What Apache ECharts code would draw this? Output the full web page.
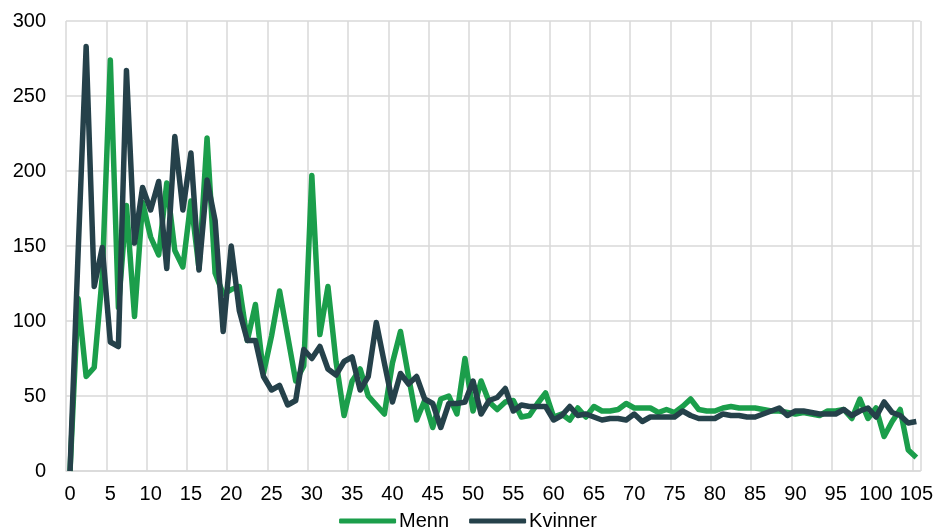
<!DOCTYPE html>
<html>
<head>
<meta charset="utf-8">
<script src="https://cdn.jsdelivr.net/npm/echarts@6/dist/echarts.min.js"></script>
<style>
html, body { margin: 0; padding: 0; background: #fff; }
#main { width: 936px; height: 528px; }
</style>
</head>
<body>
<div id="main"></div>
<script>
// alder 0..105
var ages = [];
for (var a = 0; a <= 105; a++) ages.push(String(a));

var menn = [0, 115, 63, 69, 130, 274, 109, 177, 103, 179,
	156, 144, 192, 147, 136, 180, 135, 222, 132, 118,
	121, 123, 87, 111, 65, 90, 120, 90, 60, 70,
	197, 91, 123, 73, 37, 60, 68, 50, 44, 38,
	72, 93, 63, 34, 47, 29, 48, 50, 38, 75,
	40, 60, 46, 41, 46, 47, 36, 37, 45, 52,
	36, 38, 34, 42, 36, 43, 40, 40, 41, 45,
	42, 42, 42, 39, 41, 39, 43, 48, 41, 40,
	40, 42, 43, 42, 42, 42, 41, 40, 40, 39,
	38, 39, 38, 37, 40, 40, 41, 35, 48, 35,
	42, 23, 33, 41, 14, 9];

var kvinner = [0, 145, 283, 123, 149, 86, 83, 267, 152, 189,
	174, 193, 135, 223, 174, 212, 134, 194, 167, 93,
	150, 107, 87, 87, 63, 54, 57, 44, 47, 81,
	75, 83, 68, 64, 73, 76, 54, 63, 99, 72,
	46, 65, 58, 63, 48, 45, 29, 45, 45, 46,
	60, 38, 47, 49, 55, 40, 44, 43, 43, 43,
	34, 37, 43, 37, 38, 36, 34, 35, 35, 34,
	38, 33, 36, 36, 36, 36, 40, 37, 35, 35,
	35, 38, 37, 37, 36, 36, 38, 40, 42, 37,
	40, 40, 39, 38, 38, 38, 41, 37, 40, 42,
	36, 46, 39, 37, 32, 33];

var myChart = echarts.init(document.getElementById('main'));

var fontFam = '"Liberation Sans", Arial, sans-serif';

option = {
	animation: false,
	color: ['#1b9e4b', '#25414a'],
	grid: {
		left: 66,
		right: 15,
		top: 21,
		bottom: 57
	},
	legend: {
		top: 506,
		left: 'center',
		itemWidth: 57,
		itemHeight: 5,
		itemGap: 20,
		icon: 'roundRect',
		textStyle: {
			fontFamily: fontFam,
			fontSize: 20,
			color: '#000',
			padding: [0, 0, 0, -2]
		},
		data: ['Menn', 'Kvinner']
	},
	xAxis: {
		type: 'category',
		boundaryGap: true,
		data: ages,
		axisLine: {
			lineStyle: { color: '#d9d9d9', width: 1.5 }
		},
		axisTick: { show: false, interval: 4 },
		axisLabel: {
			interval: 4,
			margin: 13,
			fontFamily: fontFam,
			fontSize: 20,
			color: '#000'
		},
		splitLine: {
			show: true,
			interval: 4,
			lineStyle: { color: '#d9d9d9', width: 1.5 }
		}
	},
	yAxis: {
		type: 'value',
		min: 0,
		max: 300,
		interval: 50,
		axisLine: { show: false },
		axisTick: { show: false },
		axisLabel: {
			margin: 20,
			fontFamily: fontFam,
			fontSize: 20,
			color: '#000'
		},
		splitLine: {
			lineStyle: { color: '#d9d9d9', width: 1.5 }
		}
	},
	series: [
		{
			name: 'Menn',
			type: 'line',
			data: menn,
			showSymbol: false,
			symbol: 'none',
			lineStyle: { width: 5.5, join: 'round' }
		},
		{
			name: 'Kvinner',
			type: 'line',
			data: kvinner,
			showSymbol: false,
			symbol: 'none',
			lineStyle: { width: 5.5, join: 'round' }
		}
	]
};

myChart.setOption(option);

window.addEventListener('resize', function () {
	myChart.resize();
});
</script>
</body>
</html>
